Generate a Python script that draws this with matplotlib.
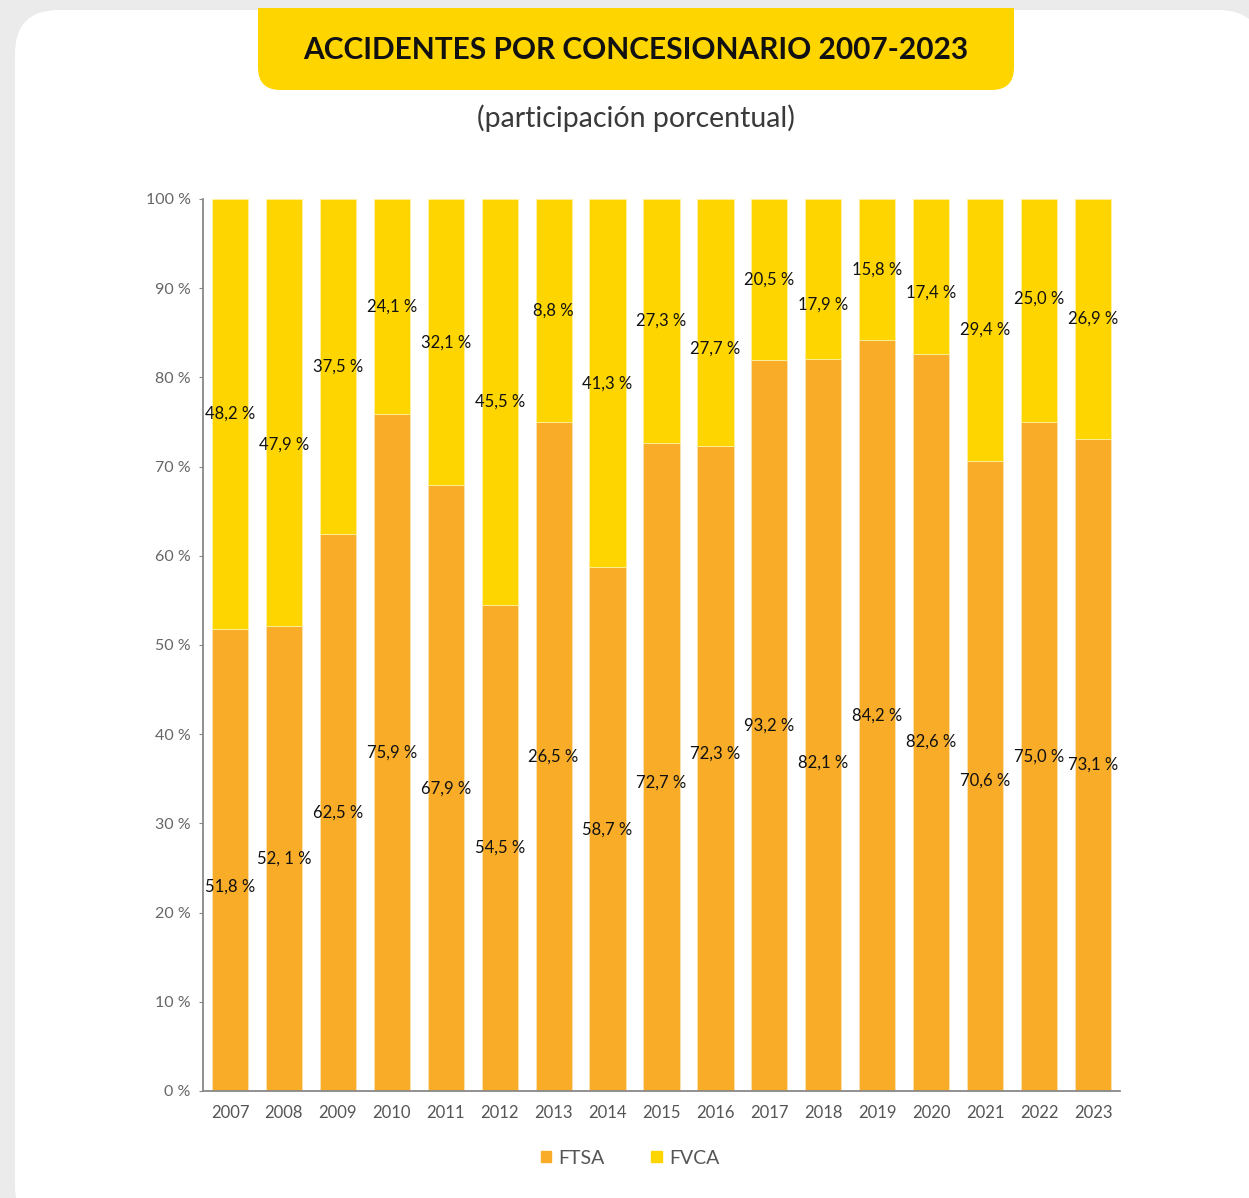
import matplotlib.pyplot as plt
from matplotlib.patches import FancyBboxPatch, Rectangle, Patch

# data
years = ["2007", "2008", "2009", "2010", "2011", "2012", "2013", "2014", "2015",
         "2016", "2017", "2018", "2019", "2020", "2021", "2022", "2023"]
ftsa = [51.8, 52.1, 62.5, 75.9, 67.9, 54.5, 75.0, 58.7, 72.7,
        72.3, 82.0, 82.1, 84.2, 82.6, 70.6, 75.0, 73.1]
fvca = [48.2, 47.9, 37.5, 24.1, 32.1, 45.5, 25.0, 41.3, 27.3,
        27.7, 18.0, 17.9, 15.8, 17.4, 29.4, 25.0, 26.9]
ftsa_labels = ["51,8 %", "52, 1 %", "62,5 %", "75,9 %", "67,9 %", "54,5 %", "26,5 %",
               "58,7 %", "72,7 %", "72,3 %", "93,2 %", "82,1 %", "84,2 %", "82,6 %",
               "70,6 %", "75,0 %", "73,1 %"]
fvca_labels = ["48,2 %", "47,9 %", "37,5 %", "24,1 %", "32,1 %", "45,5 %", "8,8 %",
               "41,3 %", "27,3 %", "27,7 %", "20,5 %", "17,9 %", "15,8 %", "17,4 %",
               "29,4 %", "25,0 %", "26,9 %"]
# manual nudges of the labels away from segment centre (percentage points)
ftsa_nudge = [-3.0, 0, 0, 0, 0, 0, 0, 0, -1.8, 1.7, 0, -4.2, 0, -2.1, -0.5, 0, 0]
fvca_nudge = [0, -3.6, 0, 0, 0, 0, 0, 0, 0, -2.9, 0, -2.9, 0, -1.8, 0, 1.3, 0]

ORANGE = "#F8AC28"
YELLOW = "#FFD500"
W, H = 1249, 1198

plt.rcParams['font.family'] = ['Lato', 'DejaVu Sans']
fig = plt.figure(figsize=(W / 100, H / 100), dpi=100)
fig.patch.set_facecolor("#EBEBEB")


def fx(px):
    return px / W


def fy(py):
    return 1 - py / H


# white card
card = FancyBboxPatch((fx(15), fy(1230)), fx(1262) - fx(15), fy(10) - fy(1230),
                      boxstyle="round,pad=0,rounding_size=0.035",
                      transform=fig.transFigure, facecolor="white", edgecolor="none",
                      mutation_aspect=W / H, zorder=0)
fig.patches.append(card)

# title box
tbox = FancyBboxPatch((fx(258), fy(90)), fx(1014) - fx(258), fy(-40) - fy(90),
                      boxstyle="round,pad=0,rounding_size=0.018",
                      transform=fig.transFigure, facecolor=YELLOW, edgecolor="none",
                      mutation_aspect=W / H, zorder=1)
fig.patches.append(tbox)
fig.patches.append(Rectangle((fx(250), fy(8)), fx(1020) - fx(250), fy(-5) - fy(8),
                             transform=fig.transFigure, facecolor="#EBEBEB",
                             edgecolor="none", zorder=2))
fig.text(fx(636), fy(50), "ACCIDENTES POR CONCESIONARIO 2007-2023", ha="center",
         va="center", fontsize=21.5, fontweight="bold", color="#111111", zorder=3)
fig.text(fx(636), fy(118), "(participación porcentual)", ha="center", va="center",
         fontsize=20.5, color="#3A3A3A", zorder=3)

ax = fig.add_axes([fx(203), fy(1091), fx(1120) - fx(203), fy(199) - fy(1091)])
ax.set_zorder(5)
ax.set_facecolor("none")
x = range(len(years))
ax.bar(x, ftsa, width=0.67, color=ORANGE, edgecolor="#FBE3B5", linewidth=0.6,
       label="FTSA", zorder=2)
ax.bar(x, fvca, width=0.67, bottom=ftsa, color=YELLOW, edgecolor="#FFF0A0",
       linewidth=0.6, label="FVCA", zorder=2)

for i in x:
    ax.text(i, ftsa[i] / 2 + ftsa_nudge[i], ftsa_labels[i], ha="center", va="center",
            fontsize=12, color="#111111", zorder=3)
    ax.text(i, ftsa[i] + fvca[i] / 2 + fvca_nudge[i], fvca_labels[i], ha="center",
            va="center", fontsize=12, color="#111111", zorder=3)

ax.set_xlim(-0.5, len(years) - 0.5)
ax.set_ylim(0, 100)
ax.set_yticks(range(0, 101, 10))
ax.set_yticklabels([f"{v} %" for v in range(0, 101, 10)])
ax.set_xticks(list(x))
ax.set_xticklabels(years)
for s in ["top", "right"]:
    ax.spines[s].set_visible(False)
for s in ["left", "bottom"]:
    ax.spines[s].set_color("#888888")
    ax.spines[s].set_linewidth(1.3)
ax.tick_params(axis="y", length=3, color="#888888", labelcolor="#666666",
               labelsize=11.5, pad=6)
ax.tick_params(axis="x", length=0, labelcolor="#555555", labelsize=12, pad=10)

handles = [Patch(color=ORANGE, label="FTSA"), Patch(color=YELLOW, label="FVCA")]
leg = fig.legend(handles=handles, loc="center", bbox_to_anchor=(fx(630), fy(1158)),
                 ncol=2, frameon=False, fontsize=14, handlelength=0.55,
                 handleheight=0.55, handletextpad=0.35, columnspacing=2.4)
leg.set_zorder(6)
for t in leg.get_texts():
    t.set_color("#555555")

fig.savefig("out.png", dpi=100, facecolor=fig.get_facecolor())
